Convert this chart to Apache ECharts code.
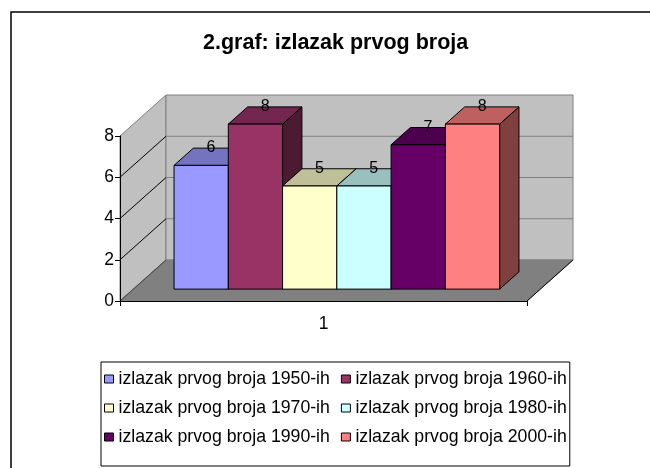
<!DOCTYPE html>
<html><head><meta charset="utf-8">
<script src="https://cdn.jsdelivr.net/npm/echarts@6/dist/echarts.min.js"></script>
<style>html,body{margin:0;padding:0;background:#fff}#c{width:650px;height:468px}</style>
</head><body><div id="c"></div>
<script>
const titleText = '2.graf: izlazak prvog broja';
const categories = ['1'];
const seriesNames = [
  'izlazak prvog broja 1950-ih',
  'izlazak prvog broja 1960-ih',
  'izlazak prvog broja 1970-ih',
  'izlazak prvog broja 1980-ih',
  'izlazak prvog broja 1990-ih',
  'izlazak prvog broja 2000-ih'
];
const values = [6, 8, 5, 5, 7, 8];
const yTicks = [0, 2, 4, 6, 8];
const frontColors = ['#9999FF', '#993366', '#FFFFCC', '#CCFFFF', '#660066', '#FF8080'];
const topColors = ['#7373BF', '#732650', '#BFBF99', '#99BFBF', '#4D004D', '#BF6060'];
const sideColors = ['#4D4D80', '#4D1A33', '#808066', '#668080', '#330033', '#804040'];

const FONT = "'Liberation Sans', Arial, sans-serif";
const DEPTH = [46, -41];
const F0 = 0.29, F1 = 0.71;
const GROUP = 0.8;
const N = values.length;

function renderWalls(params, api) {
  const c0 = api.coord([0, 0]);
  const bw = api.size([1, 0])[0];
  const xl = c0[0] - bw / 2, xr = c0[0] + bw / 2;
  const y0 = c0[1];
  const yTop = api.coord([0, yTicks[yTicks.length - 1]])[1];
  const dx = DEPTH[0], dy = DEPTH[1];
  const ch = [];
  ch.push({type: 'polygon', shape: {points: [[xl, y0], [xl, yTop], [xl + dx, yTop + dy], [xl + dx, y0 + dy]]},
    style: {fill: '#C0C0C0', stroke: '#808080', lineWidth: 1}});
  ch.push({type: 'polygon', shape: {points: [[xl + dx, yTop + dy], [xr + dx, yTop + dy], [xr + dx, y0 + dy], [xl + dx, y0 + dy]]},
    style: {fill: '#C0C0C0', stroke: '#808080', lineWidth: 1}});
  ch.push({type: 'polygon', shape: {points: [[xl, y0], [xr, y0], [xr + dx, y0 + dy], [xl + dx, y0 + dy]]},
    style: {fill: '#808080', stroke: '#808080', lineWidth: 1}});
  yTicks.forEach(t => {
    if (t === 0 || t === yTicks[yTicks.length - 1]) return;
    const y = api.coord([0, t])[1];
    ch.push({type: 'line', shape: {x1: xl + dx, y1: y + dy, x2: xr + dx, y2: y + dy}, style: {stroke: '#808080', lineWidth: 1}});
    ch.push({type: 'line', shape: {x1: xl, y1: y, x2: xl + dx, y2: y + dy}, style: {stroke: '#000', lineWidth: 1}});
  });
  ch.push({type: 'line', shape: {x1: xl, y1: y0, x2: xl + dx, y2: y0 + dy}, style: {stroke: '#404040', lineWidth: 1}});
  ch.push({type: 'line', shape: {x1: xr, y1: y0, x2: xr + dx, y2: y0 + dy}, style: {stroke: '#000', lineWidth: 1}});
  return {type: 'group', children: ch};
}

function barRenderer(si) {
  return function (params, api) {
    const cat = api.value(0);
    const v = api.value(1);
    const base = api.coord([cat, 0]);
    const top = api.coord([cat, v]);
    const bw = api.size([1, 0])[0];
    const gw = bw * GROUP;
    const w = gw / N;
    const x0 = base[0] - gw / 2 + si * w;
    const x1 = x0 + w;
    const ax = DEPTH[0] * F0, ay = DEPTH[1] * F0;
    const bx = DEPTH[0] * F1, by = DEPTH[1] * F1;
    const yb = base[1], yt = top[1];
    const st = {stroke: '#000', lineWidth: 1, lineJoin: 'round'};
    const front = [[x0 + ax, yb + ay], [x1 + ax, yb + ay], [x1 + ax, yt + ay], [x0 + ax, yt + ay]];
    const topF = [[x0 + ax, yt + ay], [x1 + ax, yt + ay], [x1 + bx, yt + by], [x0 + bx, yt + by]];
    const side = [[x1 + ax, yb + ay], [x1 + bx, yb + by], [x1 + bx, yt + by], [x1 + ax, yt + ay]];
    const cx = (x0 + x1) / 2 + (ax + bx) / 2;
    const cy = yt + (ay + by) / 2;
    return {type: 'group', children: [
      {type: 'polygon', shape: {points: side}, style: Object.assign({fill: sideColors[si]}, st)},
      {type: 'polygon', shape: {points: topF}, style: Object.assign({fill: topColors[si]}, st)},
      {type: 'polygon', shape: {points: front}, style: Object.assign({fill: frontColors[si]}, st)},
      {type: 'text', x: cx, y: cy - 9, style: {text: String(v), fill: '#000', fontSize: 16, fontFamily: FONT, align: 'center', verticalAlign: 'middle'}}
    ]};
  };
}

const series = [{
  type: 'custom', name: '__walls', renderItem: renderWalls, data: [[0, yTicks[yTicks.length - 1]]], z: 1, silent: true
}];
seriesNames.forEach((nm, i) => {
  series.push({
    type: 'custom', name: nm, renderItem: barRenderer(i), data: [[0, values[i]]], z: 2 + i,
    itemStyle: {color: frontColors[i], borderColor: '#000', borderWidth: 1}
  });
});

const chart = echarts.init(document.getElementById('c'), null, {renderer: 'canvas'});
chart.setOption({
  animation: false,
  backgroundColor: '#fff',
  textStyle: {fontFamily: FONT},
  title: {text: titleText, left: 198, top: 27, textStyle: {fontSize: 21.5, fontWeight: 'bold', color: '#000', fontFamily: FONT}},
  graphic: [{type: 'rect', shape: {x: 11, y: 12, width: 700, height: 600}, style: {fill: 'none', stroke: '#000', lineWidth: 1.5}, z: -10, silent: true}],
  grid: {left: 120, right: 123, top: 136, bottom: 167},
  xAxis: {
    type: 'category', data: categories, z: 10,
    axisLine: {lineStyle: {color: '#000', width: 1}},
    axisTick: {show: true, length: 5, lineStyle: {color: '#000'}},
    axisLabel: {fontSize: 17.5, color: '#000', margin: 14, fontFamily: FONT}
  },
  yAxis: {
    type: 'value', min: 0, max: 8, interval: 2, z: 10,
    axisLine: {show: true, lineStyle: {color: '#000', width: 1}},
    axisTick: {show: true, length: 5, lineStyle: {color: '#000'}},
    splitLine: {show: false},
    axisLabel: {fontSize: 17.5, color: '#000', margin: 6, fontFamily: FONT}
  },
  legend: {
    data: seriesNames, left: 101, top: 362, width: 470, orient: 'horizontal',
    itemWidth: 9, itemHeight: 8, itemGap: 11, icon: 'rect',
    padding: [8, 3, 20, 3], borderColor: '#000', borderWidth: 1,
    textStyle: {fontSize: 17.7, fontFamily: FONT, color: '#000', lineHeight: 15},
    itemStyle: {borderColor: '#000', borderWidth: 1}
  },
  series: series
});
</script></body></html>
